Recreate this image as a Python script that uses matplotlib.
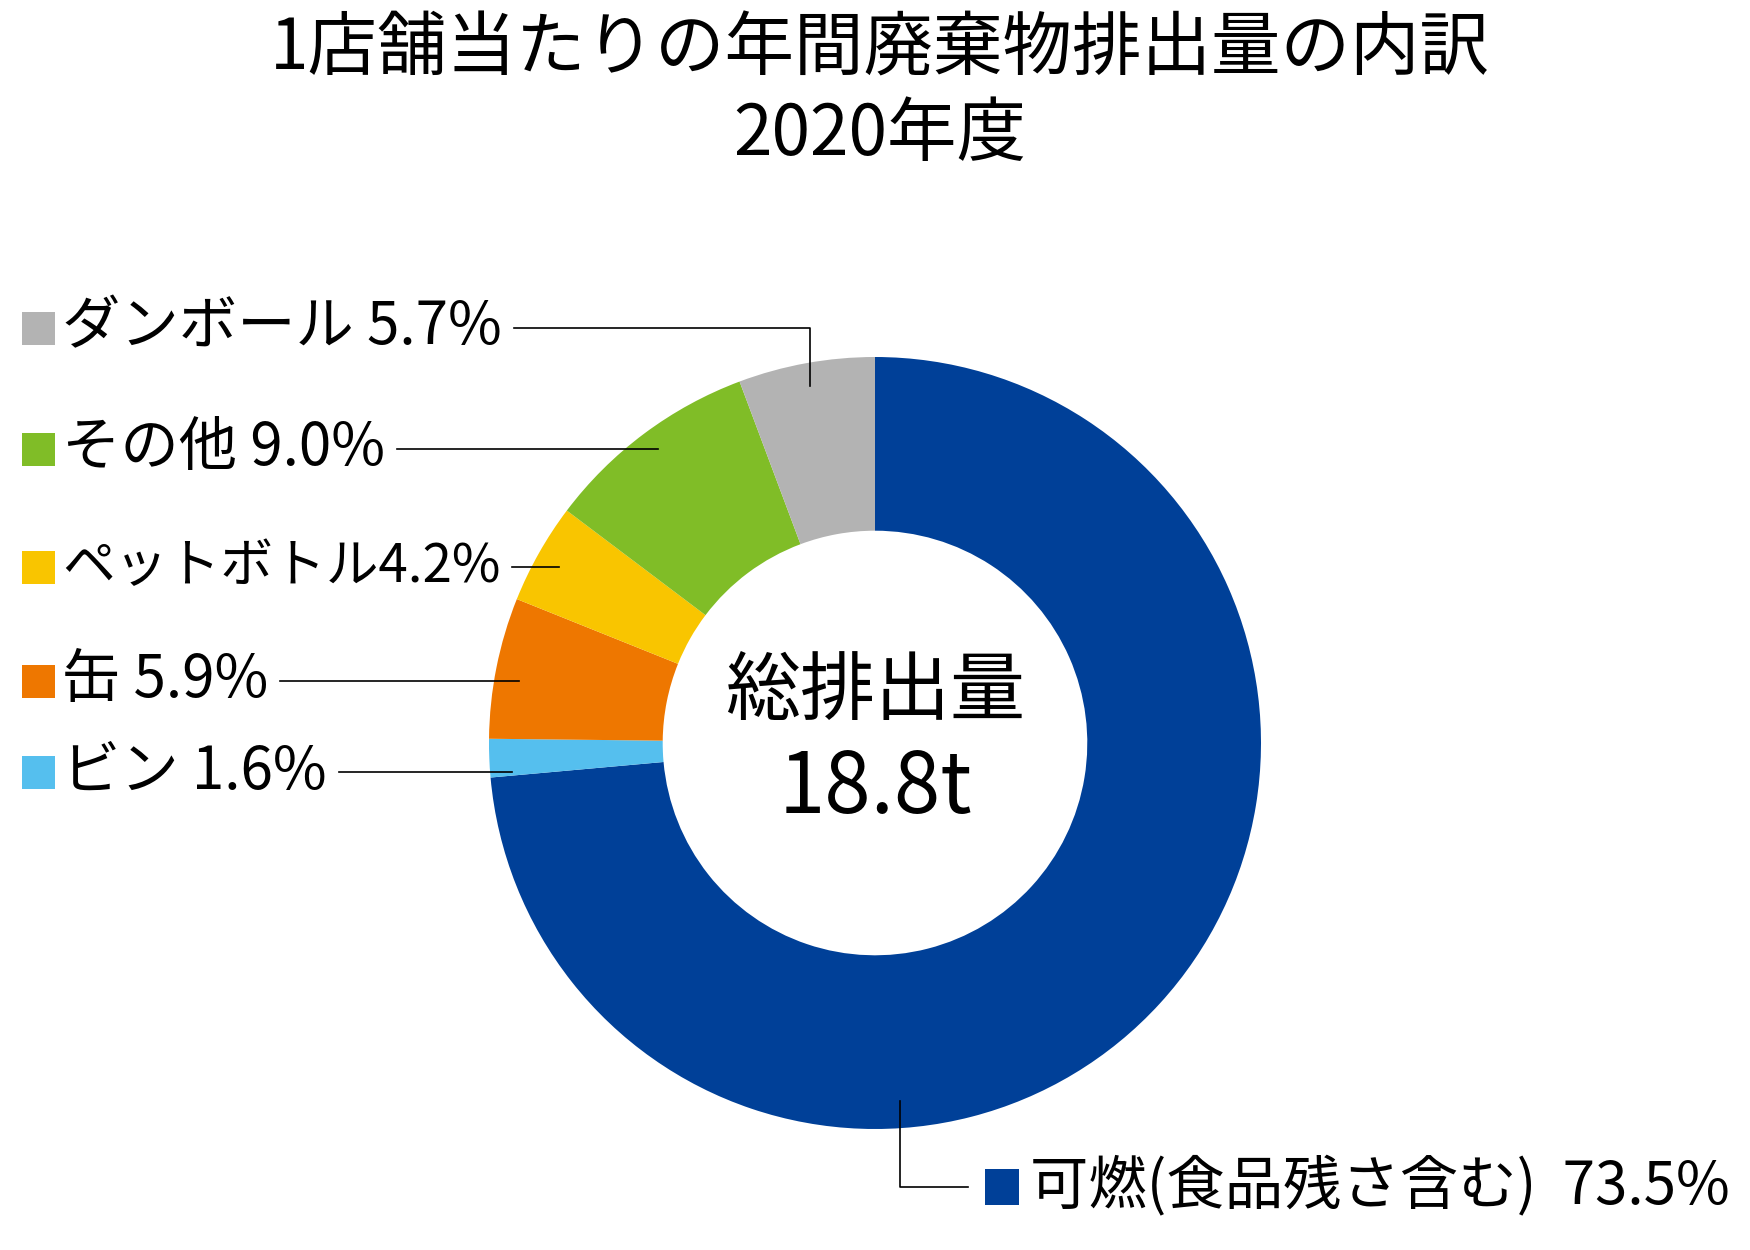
import numpy as np
import matplotlib
matplotlib.use("Agg")
import matplotlib.pyplot as plt
from matplotlib.patches import Rectangle

plt.rcParams['font.family'] = ['Noto Sans CJK JP', 'DejaVu Sans']

# data
categories = ['可燃(食品残さ含む)', 'ビン', '缶', 'ペットボトル', 'その他', 'ダンボール']
shares = [73.5, 1.6, 5.9, 4.2, 9.0, 5.7]
colors = ['#004098', '#55BFEE', '#EE7700', '#F9C500', '#80BD27', '#B3B3B3']
total_t = 18.8
title = '1店舗当たりの年間廃棄物排出量の内訳\n2020年度'

W, H = 1750, 1250
fig = plt.figure(figsize=(W / 100, H / 100), dpi=100)
ax = fig.add_axes([0, 0, 1, 1])

cx, cy, R = 875, H - 743, 386
wedges, _ = ax.pie(shares, colors=colors, startangle=90, counterclock=False,
                   radius=R, center=(cx, cy),
                   wedgeprops=dict(width=R * 0.45, linewidth=0), frame=False)
ax.set_xlim(0, W)
ax.set_ylim(0, H)
ax.set_aspect('equal')
ax.axis('off')

# title
ax.text(W / 2 + 5, H - 50, title.split('\n')[0], ha='center', va='center', fontsize=50)
ax.text(W / 2 + 5, H - 135, title.split('\n')[1], ha='center', va='center', fontsize=50)

# center text
ax.text(cx, H - 692, '総排出量', ha='center', va='center', fontsize=54)
ax.text(cx, H - 789, f'{total_t}t', ha='center', va='center', fontsize=60)

fig.canvas.draw()
renderer = fig.canvas.get_renderer()


def anchor(w, r=0.94, ang=None):
    if ang is None:
        ang = (w.theta1 + w.theta2) / 2
    a = np.deg2rad(ang)
    return cx + R * r * np.cos(a), cy + R * r * np.sin(a)


# left side labels (top to bottom)
left_order = [5, 4, 3, 2, 1]
left_y = [328, 449, 567, 681, 772]
lw = 1.2
for i, ypx in zip(left_order, left_y):
    y = H - ypx
    sep = '' if i == 3 else ' '
    ax.add_patch(Rectangle((22, y - 17), 33, 33, color=colors[i], lw=0))
    t = ax.text(62, y, f'{categories[i]}{sep}{shares[i]:.1f}%', ha='left', va='center',
                fontsize=42 if i != 3 else 38)
    x_end = t.get_window_extent(renderer).x1 + 12
    axx, axy = anchor(wedges[i])
    if i == 5:
        ax.plot([x_end, axx, axx], [y, y, axy], color='black', lw=lw)
    else:
        ax.plot([x_end, axx], [y, y], color='black', lw=lw)

# main category label at bottom right
y = H - 1187
ax.add_patch(Rectangle((985, y - 18), 34, 36, color=colors[0], lw=0))
ax.text(1030, y, f'{categories[0]}  {shares[0]:.1f}%', ha='left', va='center', fontsize=42)
axx, axy = anchor(wedges[0], r=0.93, ang=-86)
ax.plot([axx, axx, 968], [axy, y, y], color='black', lw=lw)

fig.savefig('out.png', dpi=100)
